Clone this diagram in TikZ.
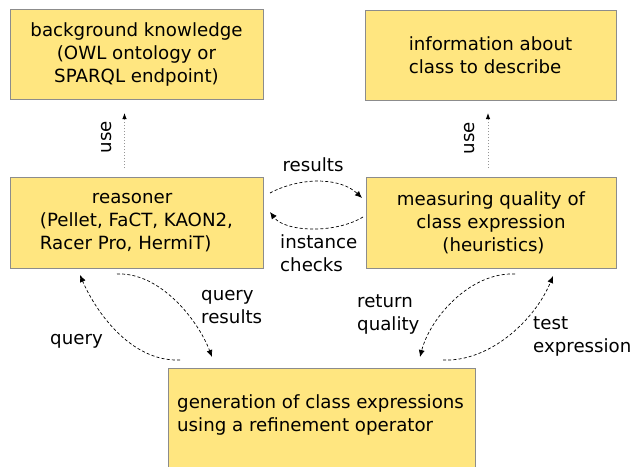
\documentclass[tikz,border=0pt]{standalone}
\usepackage{fontspec}
\setmainfont{DejaVu Sans}
\usetikzlibrary{arrows.meta}
\definecolor{boxfill}{RGB}{255,230,128}
\definecolor{boxline}{RGB}{140,140,140}
\definecolor{uselink}{RGB}{150,150,150}
\begin{document}
\begin{tikzpicture}[x=1pt, y=-1pt,
  font=\fontsize{18.2}{23}\selectfont,
  box/.style={draw=boxline, line width=1pt, fill=boxfill, inner sep=0pt, align=center},
  lbl/.style={inner sep=0pt, align=left},
  flow/.style={line width=0.7pt, dash pattern=on 3pt off 2.2pt,
    -{Latex[length=7pt,width=6pt]}},
  uses/.style={uselink, line width=0.9pt, dash pattern=on 1.5pt off 1.5pt,
    -{Latex[length=6pt,width=4.5pt,color=black]}}]
  \useasboundingbox (0,0) rectangle (632,466);

  % boxes
  \node[box, minimum width=253pt, minimum height=90pt] (bk) at (136.5,54)
    {background knowledge\\(OWL ontology or\hspace*{0.35em}\\SPARQL endpoint)};
  \node[box, minimum width=251pt, minimum height=90pt, align=left] (info) at (490.5,55)
    {information about\\class to describe};
  \node[box, minimum width=253pt, minimum height=91pt, align=left] (reas) at (136.5,222.5)
    {\hspace*{52pt}reasoner\\(Pellet, FaCT, KAON2,\\Racer Pro, HermiT)};
  \node[box, minimum width=250pt, minimum height=91pt] (meas) at (491,222.5)
    {measuring quality of\\class expression\\\hspace*{5pt}(heuristics)};
  \node[box, minimum width=307pt, minimum height=104pt, anchor=north west] (gen) at (168,368) {};
  \node[lbl, anchor=west] (gentext) at (177,415)
    {generation of class expressions\\using a refinement operator};

  % "use" links
  \coordinate (u1a) at (124.5,168);
  \coordinate (u1b) at (124.5,113);
  \coordinate (u2a) at (488,168);
  \coordinate (u2b) at (488,113);
  \draw[uses] (u1a) -- (u1b);
  \draw[uses] (u2a) -- (u2b);
  \node[rotate=90, inner sep=0pt] (use1) at (107,137) {use};
  \node[rotate=90, inner sep=0pt] (use2) at (470,138) {use};

  % reasoner <-> quality measure
  \coordinate (rs) at (270,193);
  \coordinate (re) at (362,198);
  \coordinate (is) at (363,217);
  \coordinate (ie) at (270,212);
  \draw[flow] (rs) .. controls (300,177) and (340,177) .. (re);
  \draw[flow] (is) .. controls (335,234) and (285,232) .. (ie);
  \node[inner sep=0pt] (results) at (313,165) {results};
  \node[lbl, anchor=west] (inst) at (280,253) {instance\\checks};

  % reasoner <-> generation
  \coordinate (qs) at (180,360);
  \coordinate (qe) at (80,275);
  \coordinate (qrs) at (117,274);
  \coordinate (qre) at (212,357);
  \draw[flow] (qs) .. controls (130,362) and (95,310) .. (qe);
  \draw[flow] (qrs) .. controls (160,272) and (198,320) .. (qre);
  \node[inner sep=0pt] (query) at (76.5,341) {query};
  \node[lbl, anchor=west] (qres) at (201,307) {query\\results};

  % quality measure <-> generation
  \coordinate (rqs) at (515,274);
  \coordinate (rqe) at (420,357);
  \coordinate (tes) at (443,360);
  \coordinate (tee) at (553,276);
  \draw[flow] (rqs) .. controls (470,272) and (430,318) .. (rqe);
  \draw[flow] (tes) .. controls (490,362) and (535,320) .. (tee);
  \node[lbl, anchor=west] (retq) at (357,314) {return\\quality};
  \node[lbl, anchor=west] (testx) at (533,336) {test\\expression};
\end{tikzpicture}
\end{document}
